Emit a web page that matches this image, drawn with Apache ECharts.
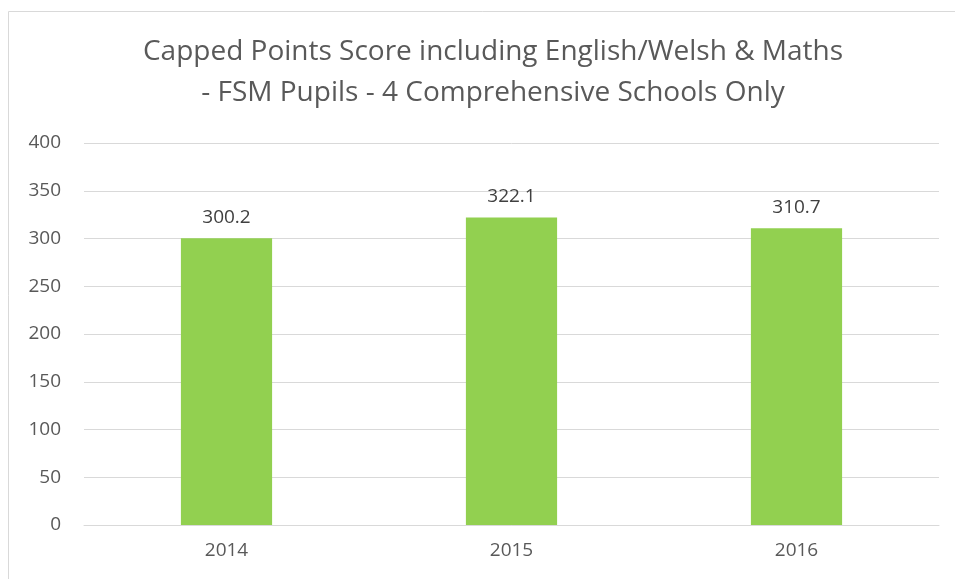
<!DOCTYPE html>
<html>
<head>
<meta charset="utf-8">
<script src="https://cdn.jsdelivr.net/npm/echarts@6/dist/echarts.min.js"></script>
<style>
  html, body { margin: 0; padding: 0; background: #fff; }
  #chart { width: 955px; height: 579px; }
</style>
</head>
<body>
<div id="chart"></div>
<script>
// data
var years = ["2014", "2015", "2016"];
var scores = [300.2, 322.1, 310.7];
var titleText = "Capped Points Score including English/Welsh & Maths\n- FSM Pupils - 4 Comprehensive Schools Only";

var myChart = echarts.init(document.getElementById("chart"));
myChart.setOption({
    animation: false,
    textStyle: { fontFamily: "Open Sans", color: "#595959" },
    graphic: [{
        // outer chart-area border
        type: "rect",
        shape: { x: 8.5, y: 11.5, width: 1000, height: 600 },
        style: { fill: "none", stroke: "#d9d9d9", lineWidth: 1 },
        silent: true
    }],
    title: {
        text: titleText,
        left: 488,
        textAlign: "center",
        top: 27,
        textStyle: {
            fontFamily: "Open Sans",
            fontWeight: "normal",
            fontSize: 28,
            lineHeight: 41,
            color: "#595959"
        }
    },
    grid: { left: 84, right: 16, top: 143, bottom: 54, containLabel: false },
    xAxis: {
        type: "category",
        data: years,
        axisLine: { show: true, lineStyle: { color: "#d9d9d9" } },
        axisTick: { show: false },
        axisLabel: { color: "#595959", fontSize: 19, margin: 16 }
    },
    yAxis: {
        type: "value",
        min: 0,
        max: 400,
        interval: 50,
        axisLine: { show: false },
        axisTick: { show: false },
        splitLine: { lineStyle: { color: "#d9d9d9", width: 1 } },
        axisLabel: { color: "#595959", fontSize: 19, margin: 23 }
    },
    series: [{
        type: "bar",
        data: scores,
        barWidth: "32%",
        itemStyle: { color: "#92d050" },
        label: {
            show: true,
            position: "top",
            distance: 11,
            color: "#404040",
            fontSize: 19
        }
    }]
});
</script>
</body>
</html>
